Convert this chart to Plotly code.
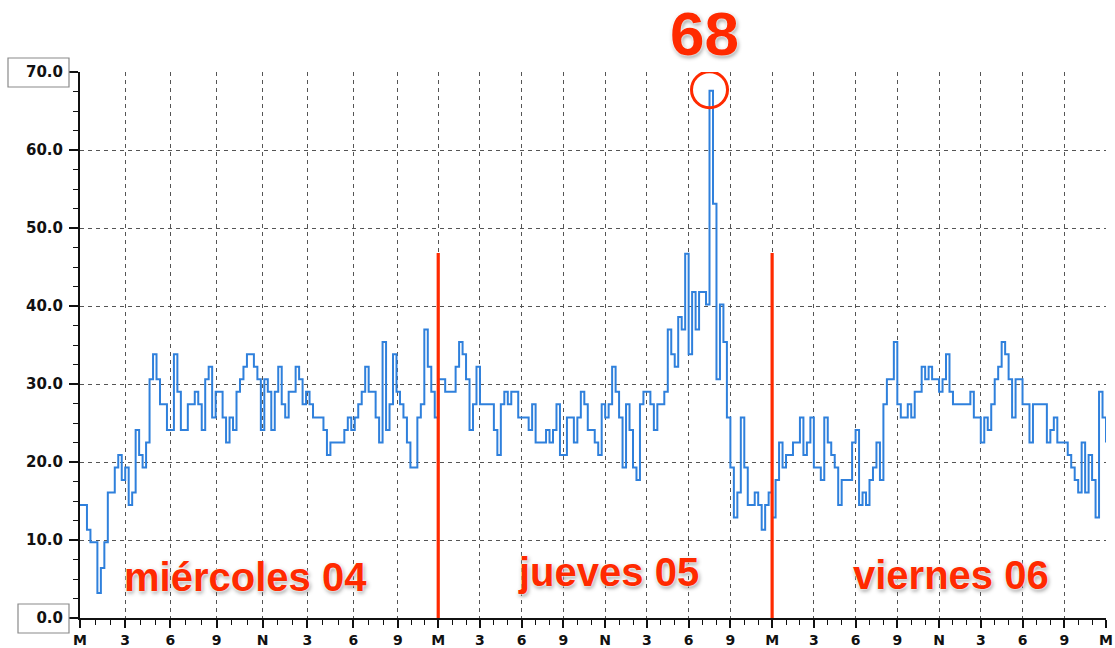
import plotly.graph_objects as go

# Wind speed readings (km/h), one reading per sample, three days
day1 = [14.5, 14.5, 11.3, 9.7, 9.7, 3.2, 6.4, 9.7, 16.1, 16.1,
        19.3, 20.9, 17.7, 19.3, 14.5, 16.1, 24.1, 20.9, 19.3, 22.5,
        30.6, 33.8, 30.6, 27.4, 27.4, 24.1, 24.1, 33.8, 29.0, 24.1,
        24.1, 27.4, 27.4, 29.0, 27.4, 24.1, 30.6, 32.2, 25.7, 29.0,
        29.0, 25.7, 22.5, 25.7, 24.1, 29.0, 30.6, 32.2, 33.8, 33.8,
        32.2, 30.6, 24.1, 30.6, 29.0, 24.1, 29.0, 32.2, 27.4, 25.7,
        29.0, 29.0, 32.2, 30.6, 27.4, 29.0, 27.4, 25.7, 25.7, 25.7,
        24.1, 20.9, 22.5, 22.5, 22.5, 22.5, 24.1, 25.7, 24.1, 25.7,
        27.4, 29.0, 32.2, 29.0, 29.0, 25.7, 22.5, 35.4, 24.1, 27.4,
        33.8, 29.0, 27.4, 25.7, 22.5, 19.3, 19.3, 25.7, 27.4, 37.0,
        32.2, 29.0, 25.7, 30.6]
day2 = [30.6, 29.0, 29.0, 29.0, 32.2, 35.4, 33.8, 30.6, 24.1, 27.4,
        32.2, 27.4, 27.4, 27.4, 27.4, 24.1, 20.9, 27.4, 29.0, 27.4,
        29.0, 29.0, 25.7, 25.7, 25.7, 24.1, 27.4, 22.5, 22.5, 22.5,
        24.1, 22.5, 24.1, 27.4, 20.9, 20.9, 25.7, 25.7, 22.5, 25.7,
        29.0, 27.4, 24.1, 24.1, 22.5, 20.9, 27.4, 25.7, 27.4, 32.2,
        29.0, 25.7, 19.3, 27.4, 24.1, 19.3, 17.7, 27.4, 29.0, 29.0,
        27.4, 24.1, 27.4, 27.4, 29.0, 37.0, 33.8, 32.2, 38.6, 37.0,
        46.7, 33.8, 41.8, 37.0, 41.8, 41.8, 40.2, 67.6, 53.1, 30.6,
        40.2, 35.4, 25.7, 19.3, 12.9, 16.1, 25.7, 19.3, 14.5, 14.5,
        16.1, 14.5, 11.3, 14.5, 16.1, 12.9]
day3 = [17.7, 22.5, 19.3, 20.9, 20.9, 22.5, 22.5, 25.7, 20.9, 22.5,
        25.7, 19.3, 19.3, 17.7, 25.7, 22.5, 20.9, 19.3, 14.5, 17.7,
        17.7, 17.7, 22.5, 24.1, 14.5, 16.1, 14.5, 17.7, 19.3, 22.5,
        17.7, 27.4, 30.6, 30.6, 35.4, 27.4, 25.7, 25.7, 27.4, 25.7,
        29.0, 29.0, 32.2, 30.6, 32.2, 30.6, 30.6, 29.0, 30.6, 33.8,
        29.0, 27.4, 27.4, 27.4, 27.4, 27.4, 29.0, 25.7, 25.7, 22.5,
        25.7, 24.1, 27.4, 30.6, 32.2, 35.4, 33.8, 30.6, 25.7, 30.6,
        30.6, 27.4, 27.4, 22.5, 27.4, 27.4, 27.4, 27.4, 22.5, 24.1,
        25.7, 22.5, 22.5, 22.5, 20.9, 19.3, 17.7, 16.1, 22.5, 16.1,
        20.9, 17.7, 12.9, 29.0, 25.7, 22.5]

speed = day1 + day2 + day3
sample = list(range(len(speed)))

# x tick positions (sample numbers) and their hour labels
tick_pos = [0, 13, 26, 39.3, 52.5, 65.4, 78.6, 91.4, 103,
            115, 127, 139, 151, 163, 175, 187, 199,
            211, 223, 235, 247, 259, 271, 283, 295]
tick_text = ["M", "3", "6", "9", "N", "3", "6", "9"] * 3 + ["M"]
midnight_pos = [103, 199]
day_labels = ["miércoles 04", "jueves 05", "viernes 06"]
day_label_pos = [47.5, 152, 250.5]
day_label_y = [5.2, 5.9, 5.5]
peak_label = "68"

minor_pos = []
for a, b in zip(tick_pos[:-1], tick_pos[1:]):
    minor_pos += [a + (b - a) / 3, a + 2 * (b - a) / 3]

RED = "#ff2a00"
BLUE = "#2f80dc"
AX = "#111111"
GRID = "#555555"
TICKFONT = dict(family="DejaVu Sans", size=15, color=AX, weight="bold")
XTICKFONT = dict(family="DejaVu Sans", size=14, color=AX, weight="bold")

fig = go.Figure()
fig.add_trace(go.Scatter(x=sample, y=speed, mode="lines",
                         line=dict(color=BLUE, width=2.0, shape="hv"),
                         hoverinfo="x+y", showlegend=False))

peak_i = max(range(len(speed)), key=lambda k: speed[k])

shapes = []
for m in midnight_pos:
    shapes.append(dict(type="line", xref="x", yref="y", x0=m, x1=m, y0=0, y1=46.8,
                       line=dict(color=RED, width=3.2), layer="above"))
shapes.append(dict(type="circle", xref="x", yref="y", xsizemode="pixel", ysizemode="pixel",
                   xanchor=sample[peak_i], yanchor=speed[peak_i],
                   x0=-18, x1=18, y0=-17, y1=19,
                   line=dict(color=RED, width=3), layer="above"))
# boxes around the first and last y labels
shapes.append(dict(type="rect", xref="paper", yref="paper", xsizemode="pixel", ysizemode="pixel",
                   xanchor=0, yanchor=1, x0=-72, x1=-11, y0=-15, y1=14,
                   line=dict(color="#8a8a8a", width=1.2), fillcolor="rgba(0,0,0,0)"))
shapes.append(dict(type="rect", xref="paper", yref="paper", xsizemode="pixel", ysizemode="pixel",
                   xanchor=0, yanchor=0, x0=-62, x1=-11, y0=-15, y1=14,
                   line=dict(color="#8a8a8a", width=1.2), fillcolor="rgba(0,0,0,0)"))

shadow = "0px 0px 2px #ffffff, 0px 0px 3px #ffffff, 1px 2px 4px rgba(0,0,0,0.45)"
annotations = []
for txt, xp, yp in zip(day_labels, day_label_pos, day_label_y):
    annotations.append(dict(x=xp, y=yp, xref="x", yref="y", text=txt, showarrow=False,
                            yanchor="middle",
                            font=dict(family="Liberation Sans", size=40, color=RED,
                                      weight="bold", shadow=shadow)))
annotations.append(dict(x=sample[peak_i] - 1.3, y=1.07, xref="x", yref="paper",
                        text=peak_label, showarrow=False, yanchor="middle",
                        font=dict(family="Liberation Sans", size=62, color=RED,
                                  weight="bold", shadow=shadow)))

fig.update_layout(
    width=1115, height=648,
    margin=dict(l=80, r=9, t=72, b=30),
    paper_bgcolor="white", plot_bgcolor="white",
    shapes=shapes, annotations=annotations,
    xaxis=dict(range=[0, 295], tickmode="array", tickvals=tick_pos, ticktext=tick_text,
               automargin=False,
               showline=True, linecolor=AX, linewidth=2, ticks="outside", ticklen=8,
               tickwidth=1.5, tickcolor=AX, showgrid=True, gridcolor=GRID, griddash="4px,4px",
               gridwidth=1, zeroline=False, ticklabelstandoff=0,
               tickfont=XTICKFONT,
               minor=dict(tickmode="array", tickvals=minor_pos, ticks="outside", ticklen=5,
                          tickwidth=1.2, tickcolor=AX, showgrid=False)),
    yaxis=dict(range=[0, 70], dtick=10, tick0=0, tickformat=".1f", automargin=False,
               showline=True, linecolor=AX, linewidth=2, ticks="outside", ticklen=9,
               tickwidth=1.5, tickcolor=AX, showgrid=True, gridcolor=GRID, griddash="4px,4px",
               gridwidth=1, zeroline=False, ticklabelstandoff=3,
               tickfont=TICKFONT,
               minor=dict(dtick=2.5, ticks="outside", ticklen=5, tickwidth=1.2,
                          tickcolor=AX, showgrid=False)),
)

fig.write_html("out.html", config={"displayModeBar": False},
               post_script="document.body.style.margin='0px';")
